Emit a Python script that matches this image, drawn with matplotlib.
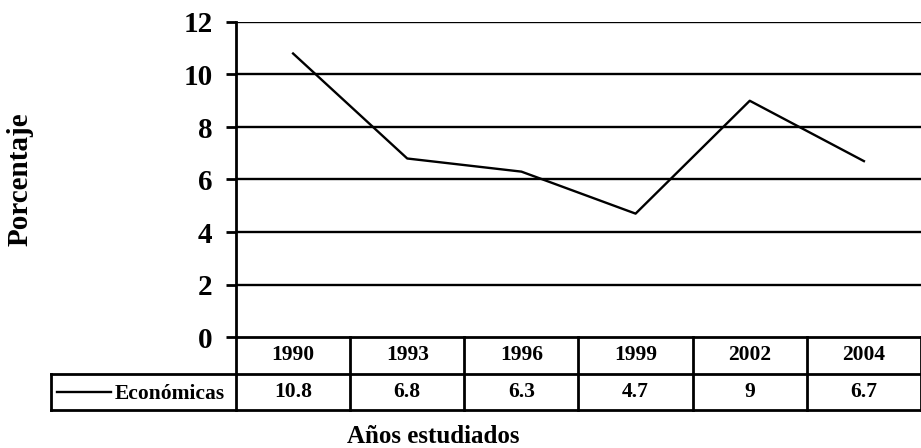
import numpy as np
import matplotlib.pyplot as plt

# datos
years = ['1990', '1993', '1996', '1999', '2002', '2004']
economicas = [10.8, 6.8, 6.3, 4.7, 9, 6.7]
serie = 'Económicas'
yticks = [0, 2, 4, 6, 8, 10, 12]

plt.rcParams['font.family'] = ['Liberation Serif', 'DejaVu Serif']
plt.rcParams['font.weight'] = 'bold'

fig = plt.figure(figsize=(9.21, 4.48), dpi=100)
W, H = 921, 448

# area del grafico
ax = fig.add_axes([236 / W, 1 - 337 / H, 685 / W, 315 / H])
x = np.arange(len(years))
ax.plot(x, economicas, color='black', lw=1.7)
ax.set_xlim(-0.5, len(years) - 0.5)
ax.set_ylim(0, 12)
ax.set_yticks(yticks)
ax.set_yticklabels([str(t) for t in yticks], fontsize=21, fontweight='bold')
ax.set_xticks([])
for t in yticks[1:]:
    ax.axhline(t, color='black', lw=1.7, zorder=0)
for s in ['top', 'right', 'bottom']:
    ax.spines[s].set_visible(False)
ax.spines['left'].set_linewidth(2)
ax.tick_params(axis='y', length=7, width=2, pad=10)
ax.set_ylabel('Porcentaje', fontsize=21, fontweight='bold', labelpad=0)
ax.yaxis.set_label_coords((34 - 236) / 685, 0.5)

# tabla de datos
leg_w = 185 / 114.17
tx = fig.add_axes([51 / W, 1 - 410 / H, 870 / W, 73 / H])
tx.set_xlim(-0.5 - leg_w, len(years) - 0.5)
tx.set_ylim(0, 2)
tx.axis('off')
lw = 2
# lineas horizontales
tx.plot([-0.5, len(years) - 0.5], [2, 2], color='black', lw=lw, clip_on=False)
tx.plot([-0.5 - leg_w, len(years) - 0.5], [1, 1], color='black', lw=lw, clip_on=False)
tx.plot([-0.5 - leg_w, len(years) - 0.5], [0, 0], color='black', lw=lw, clip_on=False)
# lineas verticales
for i in range(len(years) + 1):
    tx.plot([i - 0.5, i - 0.5], [0, 2], color='black', lw=lw, clip_on=False)
tx.plot([-0.5 - leg_w, -0.5 - leg_w], [0, 1], color='black', lw=lw, clip_on=False)

for i, (yr, v) in enumerate(zip(years, economicas)):
    tx.text(i, 1.5, yr, ha='center', va='center', fontsize=15.5, fontweight='bold')
    tx.text(i, 0.5, f'{v:g}', ha='center', va='center', fontsize=15.5, fontweight='bold')

# leyenda dentro de la tabla
tx.plot([-0.5 - leg_w + 6 / 114.17, -0.5 - leg_w + 60 / 114.17], [0.5, 0.5], color='black', lw=1.7)
tx.text(-0.5 - 11 / 114.17, 0.45, serie, ha='right', va='center', fontsize=15.5, fontweight='bold')

fig.text(433 / W, 1 - 436 / H, 'Años estudiados', ha='center', va='center',
         fontsize=18, fontweight='bold')

fig.savefig('out.png', dpi=100)
